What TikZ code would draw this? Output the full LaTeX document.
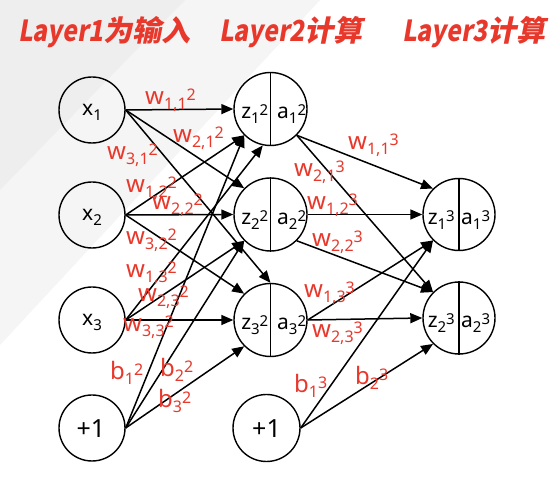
\documentclass[tikz,border=0pt]{standalone}
\usepackage{fontspec}
\usepackage{graphicx}
\setmainfont{Noto Sans}
\newfontfamily\titlefont{Noto Sans CJK SC}[FakeSlant=0.2]
\usetikzlibrary{arrows.meta}
\definecolor{lred}{HTML}{E8382B}
\definecolor{bga}{HTML}{EEEEEE}
\definecolor{bgb}{HTML}{F5F5F5}
\newcommand{\lsub}[3]{#1\raisebox{-5pt}{\fontsize{16}{16}\selectfont #2}\raisebox{4pt}{\fontsize{16}{16}\selectfont #3}}
\newcommand{\csub}[3]{#1\raisebox{-5pt}{\fontsize{15}{15}\selectfont #2}\raisebox{3.5pt}{\fontsize{15}{15}\selectfont #3}}
\newcommand{\narrow}[1]{\scalebox{0.85}[1]{#1}}
\tikzset{
  inode/.style={circle, draw, line width=1.4pt, minimum size=66pt, inner sep=0pt},
  hnode/.style={circle, draw, line width=1.4pt, minimum size=73pt, inner sep=0pt},
  onode/.style={circle, draw, line width=1.4pt, minimum size=72pt, inner sep=0pt},
  divline/.style={line width=1.4pt},
  conn/.style={-{Triangle[length=12pt,width=10pt]}, line width=1.5pt},
  lab/.style={text=lred, inner sep=0pt, anchor=base west, font=\fontsize{24}{24}\selectfont},
  ctext/.style={inner sep=0pt, font=\fontsize{21}{21}\selectfont},
  onetext/.style={inner sep=0pt, anchor=base, font=\fontsize{25}{25}\selectfont},
  ttl/.style={text=lred, inner sep=0pt, anchor=base west, font=\titlefont\bfseries\fontsize{29}{29}\selectfont},
}
\begin{document}
\begin{tikzpicture}[x=1pt,y=-1pt]
\useasboundingbox (0,0) rectangle (558,478);
\fill[white] (0,0) rectangle (558,478);
\fill[bgb] (0,0) -- (320,0) -- (0,345) -- cycle;
\fill[bga] (0,0) -- (185,0) -- (0,190) -- cycle;

% titles
\node[ttl] (t1) at (18,42) {\narrow{Layer1}为输入};
\node[ttl] (t2) at (219,42) {\narrow{Layer2}计算};
\node[ttl] (t3) at (402,42) {\narrow{Layer3}计算};

% layer 1
\node[inode] (x1) at (92,110) {};
\node[inode] (x2) at (92,215) {};
\node[inode] (x3) at (92,320) {};
\node[inode] (b1) at (92,428) {};
\node[ctext, anchor=base] (tx1) at (92,116) {\csub{x}{1}{}};
\node[ctext, anchor=base] (tx2) at (92,221) {\csub{x}{2}{}};
\node[ctext, anchor=base] (tx3) at (92,326) {\csub{x}{3}{}};
\node[onetext] (tb1) at (91,438) {+1};

% layer 2
\node[hnode] (h1) at (270.5,109) {};
\node[hnode] (h2) at (270.5,214.5) {};
\node[hnode] (h3) at (270.5,320) {};
\node[inode, minimum size=67pt] (b2) at (266.5,428) {};
\draw[divline] (h1.north) -- (h1.south);
\draw[divline] (h2.north) -- (h2.south);
\draw[divline] (h3.north) -- (h3.south);
\node[ctext, anchor=base east] (tz1) at (268.5,119) {\csub{z}{1}{2}};
\node[ctext, anchor=base west] (ta1) at (277,119) {\csub{a}{1}{2}};
\node[ctext, anchor=base east] (tz2) at (268.5,225) {\csub{z}{2}{2}};
\node[ctext, anchor=base west] (ta2) at (277,225) {\csub{a}{2}{2}};
\node[ctext, anchor=base east] (tz3) at (268.5,330) {\csub{z}{3}{2}};
\node[ctext, anchor=base west] (ta3) at (277,330) {\csub{a}{3}{2}};
\node[onetext] (tb2) at (266.5,438) {+1};

% layer 3
\node[onode] (o1) at (459,214.5) {};
\node[onode] (o2) at (459,318) {};
\draw[divline] (o1.north) -- (o1.south);
\draw[divline] (o2.north) -- (o2.south);
\node[ctext, anchor=base east] (tz4) at (455,225) {\csub{z}{1}{3}};
\node[ctext, anchor=base west] (ta4) at (461,225) {\csub{a}{1}{3}};
\node[ctext, anchor=base east] (tz5) at (455,328) {\csub{z}{2}{3}};
\node[ctext, anchor=base west] (ta5) at (461,328) {\csub{a}{2}{3}};

% connectors layer 1 -> 2
\draw[conn] (x1.east) -- (h1.west);
\draw[conn] (x1.east) -- (h2.north west);
\draw[conn] (x1.east) -- (h3.north);
\draw[conn] (x2.east) -- (h1.south west);
\draw[conn] (x2.east) -- (h2.west);
\draw[conn] (x2.east) -- (h3.north west);
\draw[conn] (x3.east) -- (h1.258);
\draw[conn] (x3.east) -- (h2.south west);
\draw[conn] (x3.east) -- (h3.west);
\draw[conn] (b1.east) -- (h1.south west);
\draw[conn] (b1.east) -- (h2.south west);
\draw[conn] (b1.east) -- (h3.south west);

% connectors layer 2 -> 3
\draw[conn] (h1.south east) -- (o1.north west);
\draw[conn] (h1.south east) -- (o2.north west);
\draw[conn] (h2.east) -- (o1.west);
\draw[conn] (h2.south east) -- (o2.north west);
\draw[conn] (h3.east) -- (o1.south west);
\draw[conn] (h3.east) -- (o2.west);
\draw[conn] (b2.east) -- (o1.south west);
\draw[conn] (b2.east) -- (o2.south west);

% labels
\node[lab] (l1) at (145,105) {\lsub{w}{1,1}{2}};
\node[lab] (l2) at (173,143) {\lsub{w}{2,1}{2}};
\node[lab] (l3) at (107,160) {\lsub{w}{3,1}{2}};
\node[lab] (l4) at (126,193) {\lsub{w}{1,2}{2}};
\node[lab] (l5) at (152,210) {\lsub{w}{2,2}{2}};
\node[lab] (l6) at (126,245) {\lsub{w}{3,2}{2}};
\node[lab] (l7) at (126,278) {\lsub{w}{1,3}{2}};
\node[lab] (l8) at (138,302) {\lsub{w}{2,3}{2}};
\node[lab] (l9) at (123,332) {\lsub{w}{3,3}{2}};
\node[lab] (l10) at (110,380) {\lsub{b}{1}{2}};
\node[lab] (l11) at (160,377) {\lsub{b}{2}{2}};
\node[lab] (l12) at (158,408) {\lsub{b}{3}{2}};
\node[lab] (l13) at (348,150) {\lsub{w}{1,1}{3}};
\node[lab] (l14) at (294,177) {\lsub{w}{2,1}{3}};
\node[lab] (l15) at (307,210) {\lsub{w}{1,2}{3}};
\node[lab] (l16) at (312,247) {\lsub{w}{2,2}{3}};
\node[lab] (l17) at (304,298) {\lsub{w}{1,3}{3}};
\node[lab] (l18) at (312,338) {\lsub{w}{2,3}{3}};
\node[lab] (l19) at (294,393) {\lsub{b}{1}{3}};
\node[lab] (l20) at (355,385) {\lsub{b}{2}{3}};
\end{tikzpicture}
\end{document}
